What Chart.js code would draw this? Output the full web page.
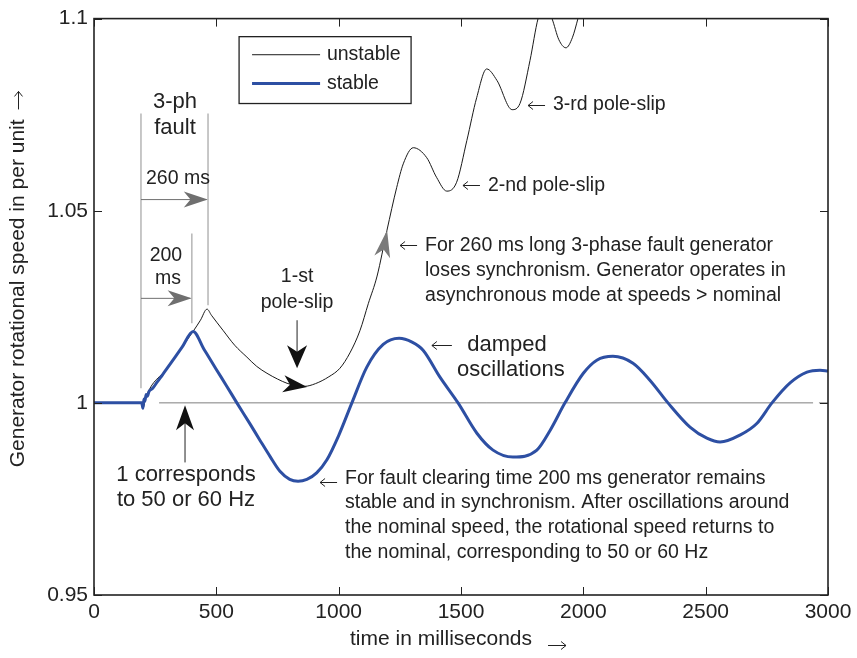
<!DOCTYPE html>
<html>
<head>
<meta charset="utf-8">
<script src="https://cdn.jsdelivr.net/npm/chart.js@4.4.1/dist/chart.umd.min.js"></script>
<style>
  html, body { margin: 0; padding: 0; background: #fff; }
</style>
</head>
<body>
<canvas id="chartSpeed" width="857" height="658"></canvas>
<script>
// time in ms, speed in per unit
const STABLE_T = [0, 195, 200, 204, 208, 213, 218, 225, 240, 260, 280, 300, 330, 360, 405,
  450, 500, 540, 584, 637, 680, 720, 760, 800, 834, 870, 910, 952, 1000, 1054, 1115, 1182,
  1247, 1300, 1345, 1414, 1488, 1565, 1631, 1712, 1810, 1864, 1925, 2000, 2055, 2121, 2203,
  2272, 2346, 2436, 2505, 2559, 2640, 2710, 2771, 2845, 2914, 2967, 3000];
const STABLE_V = [1, 1, 0.9986, 1.0010, 1.0004, 1.0022, 1.0017, 1.0030, 1.0038, 1.0056, 1.0073, 1.0091, 1.0118, 1.0145, 1.0186,
  1.0139, 1.0087, 1.0046, 1.0, 0.9946, 0.9901, 0.9860, 0.9822, 0.9801, 0.9796, 0.9801, 0.9818, 0.9852, 0.9915, 1.0, 1.0093, 1.0152,
  1.0168, 1.0158, 1.0137, 1.0067, 1.0, 0.9921, 0.9877, 0.9859, 0.9877, 0.9928, 1.0, 1.0077, 1.0111, 1.0121, 1.0103,
  1.0059, 1.0, 0.9937, 0.9908, 0.9898, 0.9916, 0.9947, 1.0, 1.0052, 1.0080, 1.0085, 1.0083];

const UNSTABLE_T = [0, 195, 200, 212, 300, 405, 435, 462, 480, 527, 575, 625, 665, 707, 750, 789, 825, 860,
  905, 960, 1005, 1046, 1087, 1121, 1157, 1197, 1237, 1264, 1305, 1360, 1400, 1442, 1482, 1524, 1564, 1605, 1647,
  1709, 1741, 1782, 1815, 1843, 1872, 1900, 1929, 1955, 1978, 2010];
const UNSTABLE_V = [1, 1, 0.9986, 1.0015, 1.0091, 1.0186, 1.0215, 1.0244, 1.0228, 1.0189, 1.0150, 1.0119, 1.0095, 1.0077, 1.0062, 1.0051, 1.0045, 1.0043,
  1.0050, 1.0068, 1.0090, 1.0130, 1.0188, 1.0258, 1.0330, 1.0448, 1.0560, 1.0622, 1.0664, 1.0638, 1.0587, 1.0551, 1.0574, 1.0683, 1.0794, 1.0869, 1.0839,
  1.0763, 1.0779, 1.0891, 1.1000, 1.1040, 1.1000, 1.0945, 1.0924, 1.0950, 1.1000, 1.1080];

const NOMINAL_T = [266, 2939, 2950, 2963, 3000];
const NOMINAL_V = [1, 1, null, 1, 1];

const X_TICKS = [0, 500, 1000, 1500, 2000, 2500, 3000];
const Y_TICKS = [0.95, 1, 1.05, 1.1];

const FONT = '"Liberation Sans", Arial, Helvetica, sans-serif';
const INK = '#222';

const pts = (ts, vs) => ts.map((t, i) => ({ x: t, y: vs[i] }));

// annotations, in data units (t, v)
const NOTES = [
  ['3-ph', 331, 1.0782, 'center', 22],
  ['fault', 331, 1.0716, 'center', 22],
  ['260 ms', 343, 1.0584, 'center', 19.5],
  ['200', 294, 1.0384, 'center', 19.5],
  ['ms', 302, 1.0324, 'center', 19.5],
  ['1-st', 830, 1.0329, 'center', 19.5],
  ['pole-slip', 830, 1.0262, 'center', 19.5],
  ['1 corresponds', 376, 0.9812, 'center', 22],
  ['to 50 or 60 Hz', 376, 0.9747, 'center', 22],
  ['For fault clearing time 200 ms generator remains', 1026, 0.9802, 'left', 19.5],
  ['stable and in synchronism. After oscillations around', 1026, 0.9740, 'left', 19.5],
  ['the nominal speed, the rotational speed returns to', 1026, 0.9675, 'left', 19.5],
  ['the nominal, corresponding to 50 or 60 Hz', 1026, 0.9610, 'left', 19.5],
  ['damped', 1688, 1.0150, 'center', 22],
  ['oscillations', 1704, 1.0085, 'center', 22],
  ['For 260 ms long 3-phase fault generator', 1353, 1.0410, 'left', 19.5],
  ['loses synchronism. Generator operates in', 1353, 1.0345, 'left', 19.5],
  ['asynchronous mode at speeds > nominal', 1353, 1.0280, 'left', 19.5],
  ['2-nd pole-slip', 1610, 1.0566, 'left', 19.5],
  ['3-rd pole-slip', 1876, 1.0776, 'left', 19.5]
];
// thin "←" pointers: [t of tip, v, length px]
const POINTERS = [[1251, 1.0410, 17], [1508, 1.0566, 17], [1774, 1.0776, 17], [1381, 1.0150, 20], [924, 0.9794, 17]];

function arrowHead(ctx, fx, fy, tx, ty, len, half, color) {
  const a = Math.atan2(ty - fy, tx - fx);
  const c = Math.cos(a), s = Math.sin(a);
  const bx = tx - len * c, by = ty - len * s;
  ctx.fillStyle = color;
  ctx.beginPath();
  ctx.moveTo(tx, ty);
  ctx.lineTo(bx - half * s, by + half * c);
  ctx.lineTo(tx - len * 0.72 * c, ty - len * 0.72 * s);
  ctx.lineTo(bx + half * s, by - half * c);
  ctx.closePath();
  ctx.fill();
}

function line(ctx, x1, y1, x2, y2, color, w) {
  ctx.strokeStyle = color; ctx.lineWidth = w || 1;
  ctx.beginPath(); ctx.moveTo(x1, y1); ctx.lineTo(x2, y2); ctx.stroke();
}

// thin text-style arrow, dir = -1 left, +1 right
function thinArrow(ctx, x, y, len, dir) {
  const tip = dir < 0 ? x : x + len;
  ctx.beginPath();
  ctx.moveTo(x, y); ctx.lineTo(x + len, y);
  ctx.moveTo(tip - dir * 5, y - 4); ctx.lineTo(tip, y); ctx.lineTo(tip - dir * 5, y + 4);
  ctx.stroke();
}

const overlay = {
  id: 'overlay',
  afterDatasetsDraw(chart) {
    const { ctx, chartArea: ca, scales: { x: xs, y: ys } } = chart;
    const X = t => xs.getPixelForValue(t), Y = v => ys.getPixelForValue(v);
    ctx.save();

    // box and inward ticks
    ctx.strokeStyle = INK; ctx.lineWidth = 1.6;
    ctx.strokeRect(ca.left, ca.top, ca.right - ca.left, ca.bottom - ca.top);
    ctx.lineWidth = 1;
    ctx.beginPath();
    X_TICKS.forEach(t => {
      const px = Math.round(X(t)) + 0.5;
      ctx.moveTo(px, ca.bottom); ctx.lineTo(px, ca.bottom - 8);
      ctx.moveTo(px, ca.top); ctx.lineTo(px, ca.top + 8);
    });
    Y_TICKS.forEach(v => {
      const py = Math.round(Y(v)) + 0.5;
      ctx.moveTo(ca.left, py); ctx.lineTo(ca.left + 8, py);
      ctx.moveTo(ca.right, py); ctx.lineTo(ca.right - 8, py);
    });
    ctx.stroke();

    // fault duration markers
    const GRAY = '#a3a3a3', DARKGRAY = '#6f6f6f';
    line(ctx, X(192), Y(1.0753), X(192), Y(1.0038), GRAY, 1.2);
    line(ctx, X(466), Y(1.0753), X(466), Y(1.0254), GRAY, 1.2);
    line(ctx, X(400), Y(1.0441), X(400), Y(1.0207), GRAY, 1.2);
    line(ctx, X(192), Y(1.0529), X(460), Y(1.0529), DARKGRAY, 1);
    arrowHead(ctx, X(192), Y(1.0529), X(465), Y(1.0529), 24, 8, DARKGRAY);
    line(ctx, X(192), Y(1.0272), X(394), Y(1.0272), DARKGRAY, 1);
    arrowHead(ctx, X(192), Y(1.0272), X(399), Y(1.0272), 24, 8, DARKGRAY);

    // gray arrowhead on the unstable curve
    arrowHead(ctx, X(1170), Y(1.0352), X(1198), Y(1.0449), 27, 8, '#7a7a7a');

    // black pointers
    line(ctx, X(830), Y(1.0215), X(830), Y(1.0110), INK, 1);
    arrowHead(ctx, X(830), Y(1.0215), X(830), Y(1.0090), 23, 10, '#111');
    arrowHead(ctx, X(760), Y(1.0051), X(871), Y(1.0041), 24, 8.5, '#111');
    line(ctx, X(372), Y(0.9845), X(372), Y(0.9980), INK, 1);
    arrowHead(ctx, X(372), Y(0.9845), X(372), Y(0.9994), 25, 9, '#111');

    // thin "←" pointers
    ctx.strokeStyle = INK; ctx.lineWidth = 1;
    POINTERS.forEach(([t, v, len]) => thinArrow(ctx, X(t), Math.round(Y(v)) + 0.5, len, -1));

    // texts
    ctx.fillStyle = INK; ctx.textBaseline = 'middle';
    NOTES.forEach(([txt, t, v, align, size]) => {
      ctx.font = size + 'px ' + FONT;
      ctx.textAlign = align;
      ctx.fillText(txt, X(t), Y(v));
    });

    // legend
    const lx0 = X(593), lx1 = X(1296), ly0 = Y(1.0953), ly1 = Y(1.0779);
    ctx.fillStyle = '#fff';
    ctx.fillRect(lx0, ly0, lx1 - lx0, ly1 - ly0);
    ctx.strokeStyle = INK; ctx.lineWidth = 1.3;
    ctx.strokeRect(lx0, ly0, lx1 - lx0, ly1 - ly0);
    line(ctx, X(646), Y(1.0906), X(924), Y(1.0906), '#1a1a1a', 1);
    line(ctx, X(646), Y(1.0831), X(924), Y(1.0831), '#2d4fa3', 3);
    ctx.fillStyle = INK; ctx.textAlign = 'left'; ctx.font = '19.5px ' + FONT;
    ctx.fillText('unstable', X(952), Y(1.0906));
    ctx.fillText('stable', X(952), Y(1.0831));

    // axis titles
    ctx.font = '21px ' + FONT;
    ctx.textAlign = 'left';
    const xt = 'time in milliseconds';
    const xw = ctx.measureText(xt).width;
    const xcx = (ca.left + ca.right) / 2 - 3;
    const xl = xcx - (xw + 34) / 2;
    ctx.fillText(xt, xl, 639);
    ctx.strokeStyle = INK; ctx.lineWidth = 1;
    thinArrow(ctx, xl + xw + 16, 645.5, 18, 1);

    ctx.save();
    ctx.translate(ca.left - 76, Y(1.0324));
    ctx.rotate(-Math.PI / 2);
    const yt = 'Generator rotational speed in per unit';
    const yw = ctx.measureText(yt).width;
    const yl = -(yw + 30) / 2;
    ctx.fillText(yt, yl, 0);
    thinArrow(ctx, yl + yw + 10, 0.5, 18, 1);
    ctx.restore();

    ctx.restore();
  }
};

new Chart(document.getElementById('chartSpeed'), {
  type: 'line',
  data: {
    datasets: [
      { label: 'stable', data: pts(STABLE_T, STABLE_V), borderColor: '#2d4fa3', borderWidth: 3,
        pointRadius: 0, cubicInterpolationMode: 'monotone', fill: false },
      { label: 'unstable', data: pts(UNSTABLE_T, UNSTABLE_V), borderColor: '#1a1a1a', borderWidth: 1,
        pointRadius: 0, cubicInterpolationMode: 'monotone', fill: false },
      { label: 'nominal', data: pts(NOMINAL_T, NOMINAL_V), borderColor: '#7f7f7f', borderWidth: 1,
        pointRadius: 0, tension: 0, spanGaps: false, fill: false }
    ]
  },
  options: {
    responsive: false,
    animation: false,
    layout: { padding: { top: 18, right: 29, left: 0, bottom: 0 } },
    plugins: { legend: { display: false }, tooltip: { enabled: false } },
    scales: {
      x: {
        type: 'linear', min: 0, max: 3000,
        afterBuildTicks: s => { s.ticks = X_TICKS.map(v => ({ value: v })); },
        ticks: { font: { family: FONT, size: 21 }, color: INK, padding: 5, maxRotation: 0, autoSkip: false,
          callback: v => String(v) },
        grid: { display: false, drawTicks: false },
        border: { display: false },
        title: { display: false },
        afterFit: s => { s.height = 63; }
      },
      y: {
        type: 'linear', min: 0.95, max: 1.1,
        afterBuildTicks: s => { s.ticks = Y_TICKS.map(v => ({ value: v })); },
        ticks: { font: { family: FONT, size: 21 }, color: INK, padding: 6,
          callback: v => String(+v.toFixed(2)) },
        grid: { display: false, drawTicks: false },
        border: { display: false },
        afterFit: s => { s.width = 94; }
      }
    }
  },
  plugins: [overlay]
});
</script>
</body>
</html>
